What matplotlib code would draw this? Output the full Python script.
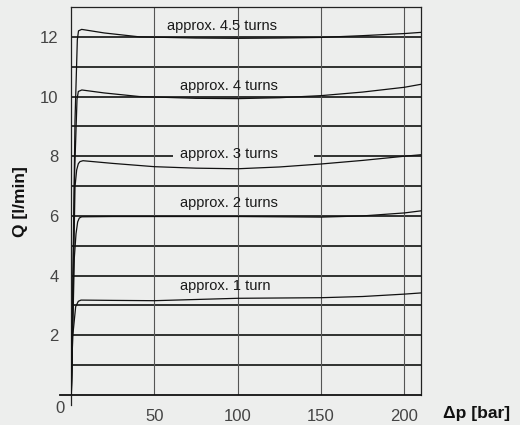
import matplotlib
matplotlib.use("Agg")
import matplotlib.pyplot as plt

plt.rcParams['font.family'] = ['Liberation Sans', 'DejaVu Sans']

BG = '#edeeed'

# curves: delta p [bar] vs Q [l/min]
p_45 = [0.2, 2.4, 3.8, 4.5, 6.4, 20, 41, 75, 100, 125, 150, 175, 200, 210]
q_45 = [0, 9.2, 11.9, 12.2, 12.25, 12.13, 12.0, 11.96, 11.95, 11.96, 11.98, 12.04, 12.11, 12.15]

p_4 = [0.2, 2.2, 3.6, 4.4, 6.5, 20, 41, 75, 100, 125, 150, 175, 200, 210]
q_4 = [0, 7.5, 9.9, 10.17, 10.22, 10.12, 10.0, 9.94, 9.93, 9.96, 10.03, 10.15, 10.31, 10.41]

p_3 = [0.2, 2.4, 3.4, 4.4, 5.4, 7.2, 25, 50, 75, 100, 125, 150, 175, 200, 210]
q_3 = [0, 6.98, 7.54, 7.75, 7.82, 7.85, 7.76, 7.65, 7.6, 7.58, 7.64, 7.74, 7.86, 8.0, 8.05]

p_2 = [0.2, 2.0, 3.0, 4.0, 5.0, 6.4, 25, 50, 100, 150, 175, 200, 210]
q_2 = [0, 4.6, 5.4, 5.8, 5.93, 5.97, 5.98, 5.98, 5.98, 5.96, 6.0, 6.1, 6.17]

p_1 = [0.1, 1.0, 2.8, 4.4, 6.0, 25, 50, 75, 100, 125, 150, 175, 200, 210]
q_1 = [0, 1.95, 2.96, 3.14, 3.18, 3.17, 3.16, 3.2, 3.24, 3.25, 3.26, 3.3, 3.38, 3.42]

curves = [(p_45, q_45), (p_4, q_4), (p_3, q_3), (p_2, q_2), (p_1, q_1)]

labels = ['approx. 4.5 turns', 'approx. 4 turns', 'approx. 3 turns',
          'approx. 2 turns', 'approx. 1 turn']
label_y = [12.36, 10.35, 8.06, 6.42, 3.65]
label_x = [57.6, 65.4, 65.4, 65.4, 65.4]

h_grid = [1, 2, 3, 4, 5, 6, 7, 9, 10, 11, 12]
v_grid = [50, 100, 150, 200]
x_ticks = [50, 100, 150, 200]
y_ticks = [2, 4, 6, 8, 10, 12]

fig = plt.figure(figsize=(5.2, 4.25), dpi=100, facecolor=BG)
ax = fig.add_axes([71/520, 1-395/425, 350/520, 388/425])
ax.set_facecolor(BG)
ax.set_xlim(0, 210)
ax.set_ylim(0, 13)

# grid (line at 8 is broken where the 3-turn label sits)
ax.hlines(h_grid, 0, 210, color='#111111', lw=1.2, zorder=1)
ax.hlines([8, 8], [0, 146], [61, 210], color='#111111', lw=1.2, zorder=1)
ax.vlines(v_grid, 0, 13, color='#555555', lw=0.8, zorder=1)

for p, q in curves:
    ax.plot(p, q, color='#111111', lw=0.9, zorder=3)

for txt, x, y in zip(labels, label_x, label_y):
    ax.text(x, y, txt, fontsize=10.5, color='#1a1a1a', ha='left', va='center', zorder=4)

for s in ['top', 'right', 'left']:
    ax.spines[s].set_color('#222222')
    ax.spines[s].set_linewidth(0.9)
ax.spines['bottom'].set_visible(False)
ax.plot([-6.6, 210], [0, 0], color='#111111', lw=1.3, clip_on=False, zorder=5)
ax.plot([0, 0], [-0.33, 0], color='#222222', lw=0.9, clip_on=False, zorder=5)

ax.set_xticks(x_ticks)
ax.set_yticks(y_ticks)
ax.tick_params(length=0, labelsize=12, labelcolor='#444444')
ax.tick_params(axis='x', pad=10)
ax.tick_params(axis='y', pad=9)
ax.text(-6.6, -0.46, '0', fontsize=12, color='#444444', ha='center', va='center', clip_on=False)

fig.text(20/520, 1-202/425, 'Q [l/min]', rotation=90, ha='center', va='center',
         fontsize=12.5, fontweight='bold', color='#111111')
fig.text(476.7/520, 1-413.7/425, '\u0394p [bar]', ha='center', va='center',
         fontsize=12.5, fontweight='bold', color='#111111')

fig.savefig('out.png', dpi=100, facecolor=BG)
